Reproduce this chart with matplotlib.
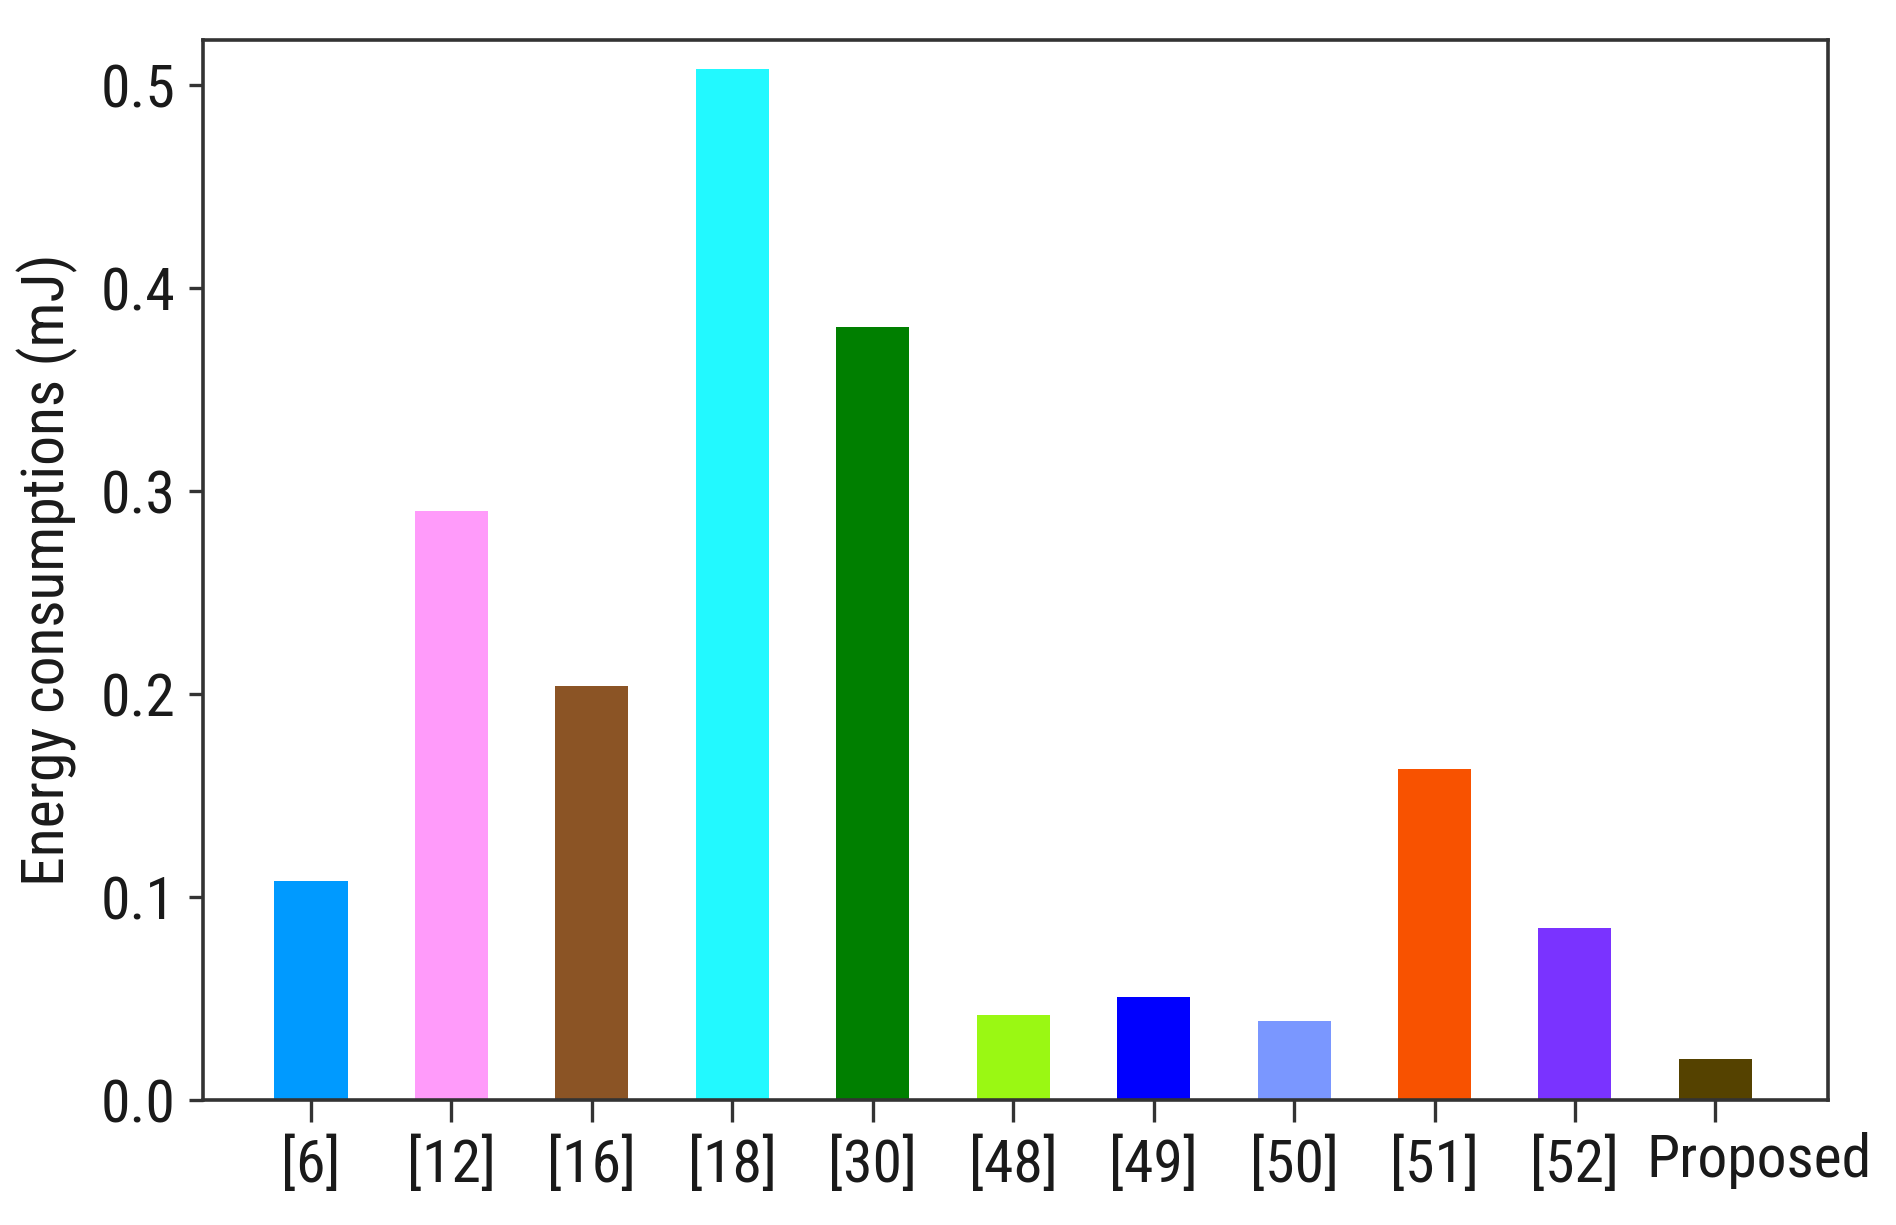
import matplotlib
matplotlib.use("Agg")
import matplotlib.pyplot as plt
import matplotlib.transforms as mtransforms
import numpy as np

plt.rcParams["font.family"] = ["Roboto Condensed", "DejaVu Sans"]
plt.rcParams["font.size"] = 43

labels = ["[6]", "[12]", "[16]", "[18]", "[30]", "[48]", "[49]", "[50]", "[51]", "[52]", "Proposed"]
energy = [0.108, 0.290, 0.204, 0.508, 0.381, 0.042, 0.051, 0.039, 0.163, 0.085, 0.020]
bar_colors = ["#009aff", "#ff9bfa", "#8b5425", "#22f9ff", "#007f00", "#9af813",
              "#0000ff", "#7a97ff", "#f85200", "#7a33ff", "#554200"]

fig = plt.figure(figsize=(18.96, 12.25), dpi=100)
ax = fig.add_axes([0.107, 0.102, 0.857, 0.865])

x = np.arange(len(labels))
ax.bar(x, energy, width=0.52, color=bar_colors)

ax.set_xlim(-0.77, 10.8)
ax.set_ylim(0, 0.522)
ax.set_yticks([0.0, 0.1, 0.2, 0.3, 0.4, 0.5])
ax.set_yticklabels(["0.0", "0.1", "0.2", "0.3", "0.4", "0.5"])
ax.set_xticks(x)
ax.set_xticklabels(labels)
ax.set_ylabel("Energy consumptions (mJ)", color="#1a1a1a", labelpad=16)

for s in ax.spines.values():
    s.set_linewidth(2.6)
    s.set_color("#333333")
ax.tick_params(axis="both", colors="#333333", labelcolor="#1a1a1a", width=2.4)
ax.tick_params(axis="x", length=16, pad=10)
ax.tick_params(axis="y", length=10, pad=10)

# last label sits a bit to the right of its tick in the original
last = ax.get_xticklabels()[-1]
last.set_transform(last.get_transform() + mtransforms.ScaledTranslation(0.44, 0.04, fig.dpi_scale_trans))

fig.savefig("out.png", dpi=100)
